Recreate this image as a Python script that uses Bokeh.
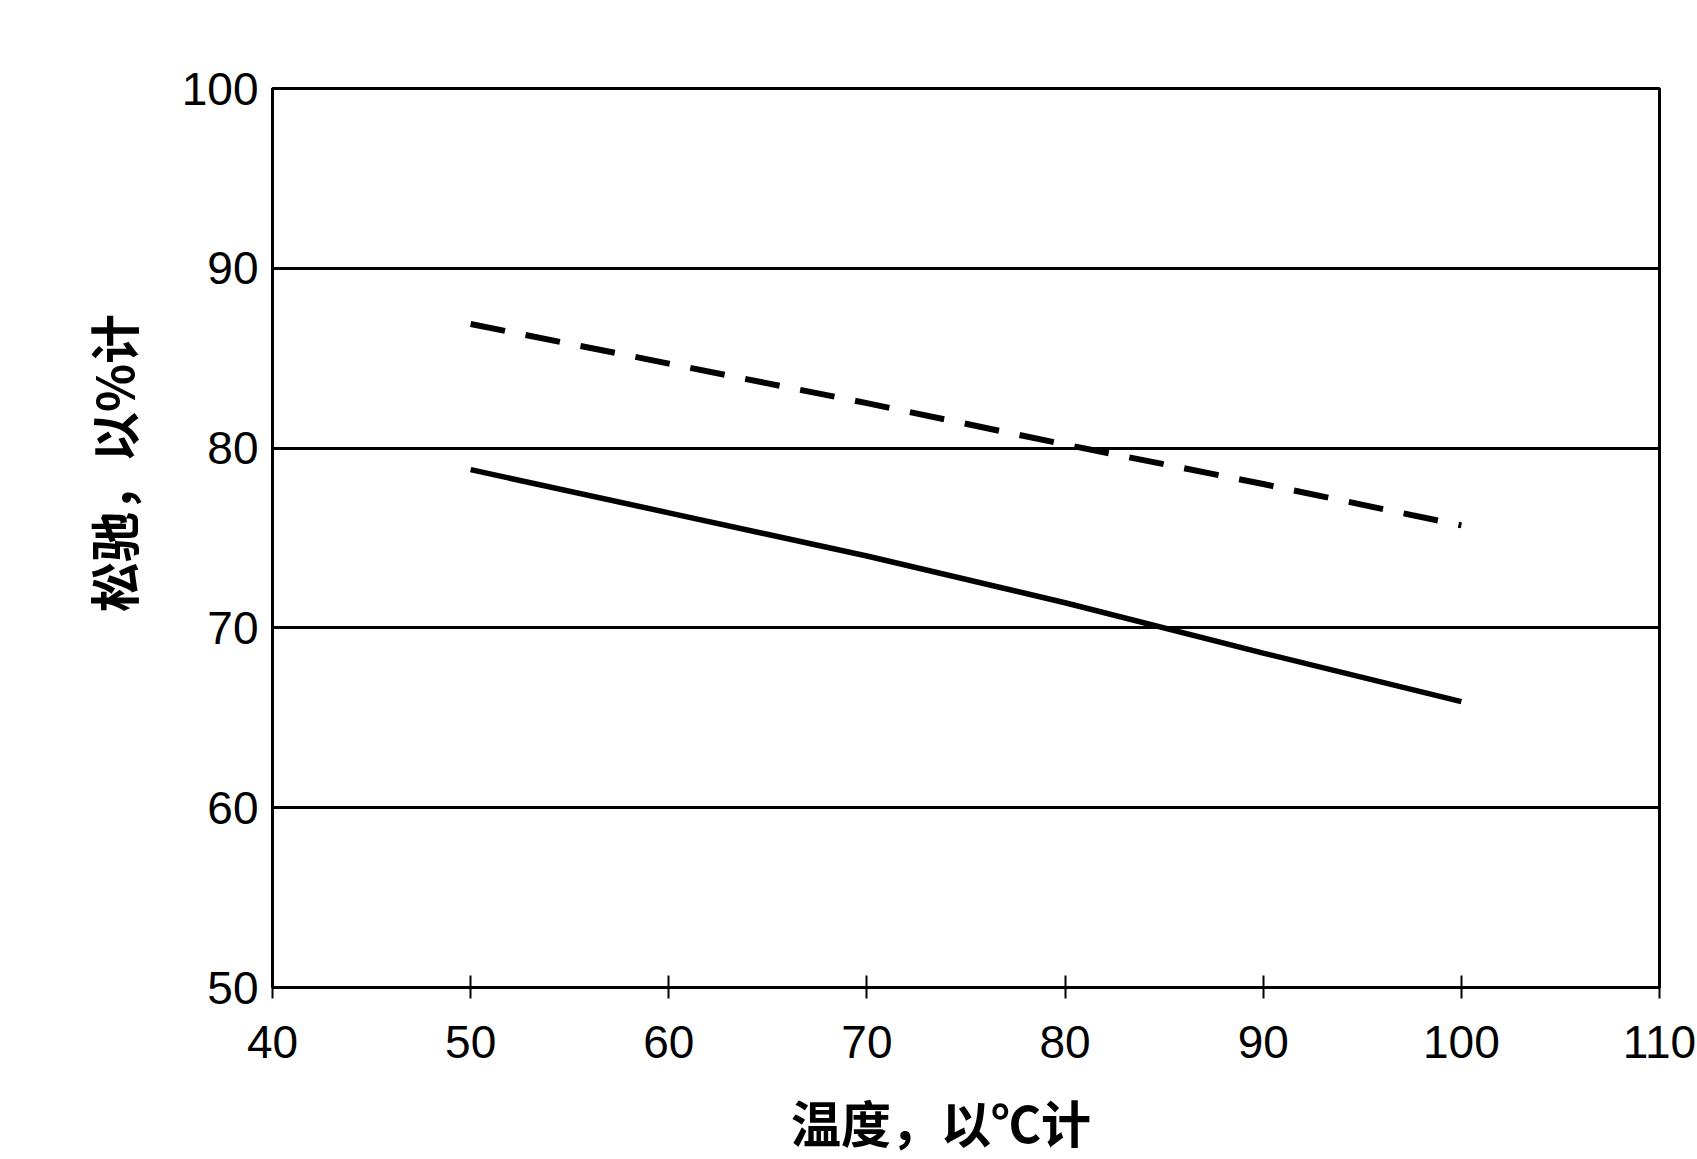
from bokeh.plotting import figure
from bokeh.embed import file_html
from bokeh.resources import INLINE
from bokeh.models import Range1d, FixedTicker

# Data
temperature = [50, 60, 70, 80, 90, 100]
relax_solid = [78.8, 76.4, 74.0, 71.4, 68.6, 65.9]
relax_dashed = [86.9, 84.7, 82.5, 80.2, 78.0, 75.7]
x_ticks = [40, 50, 60, 70, 80, 90, 100, 110]
y_ticks = [50, 60, 70, 80, 90, 100]
x_label = "温度，以℃计"
y_label = "松驰，以%计"

p = figure(width=1697, height=1159, output_backend="svg", toolbar_location=None,
           x_range=Range1d(40, 110), y_range=Range1d(50, 100),
           min_border_left=272, min_border_right=38, min_border_top=88, min_border_bottom=172)

p.outline_line_color = "black"
p.outline_line_width = 3
p.background_fill_color = "white"
p.border_fill_color = "white"

p.xgrid.visible = False
p.ygrid.grid_line_color = "black"
p.ygrid.grid_line_width = 3
p.ygrid.ticker = FixedTicker(ticks=y_ticks)

p.xaxis.ticker = FixedTicker(ticks=x_ticks)
p.yaxis.ticker = FixedTicker(ticks=y_ticks)

for ax in (p.xaxis[0], p.yaxis[0]):
    ax.axis_line_color = "black"
    ax.axis_line_width = 3
    ax.major_label_text_font = "Liberation Sans"
    ax.major_label_text_font_size = "46px"
    ax.major_label_text_color = "black"
    ax.minor_tick_line_color = None
    ax.axis_label_text_font = "Noto Sans CJK SC"
    ax.axis_label_text_font_style = "bold"
    ax.axis_label_text_font_size = "50px"
    ax.axis_label_text_color = "black"

p.xaxis.major_tick_in = 12
p.xaxis.major_tick_out = 11
p.xaxis.major_tick_line_width = 2
p.xaxis.major_tick_line_color = "black"
p.xaxis.major_label_standoff = 27
# ideographic space shifts the centred title slightly left, as in the reference
p.xaxis.axis_label = x_label + "\u3000"
p.xaxis.axis_label_standoff = 24

p.yaxis.major_tick_in = 0
p.yaxis.major_tick_out = 0
p.yaxis.major_label_standoff = 14
# leading ideographic spaces shift the rotated title upward, as in the reference
p.yaxis.axis_label = "\u3000\u3000\u3000" + y_label
p.yaxis.axis_label_standoff = 31

p.line(temperature, relax_dashed, line_color="black", line_width=6, line_dash="35 21")
p.line(temperature, relax_solid, line_color="black", line_width=5.5)

open("out.html", "w").write(file_html(p, INLINE))
